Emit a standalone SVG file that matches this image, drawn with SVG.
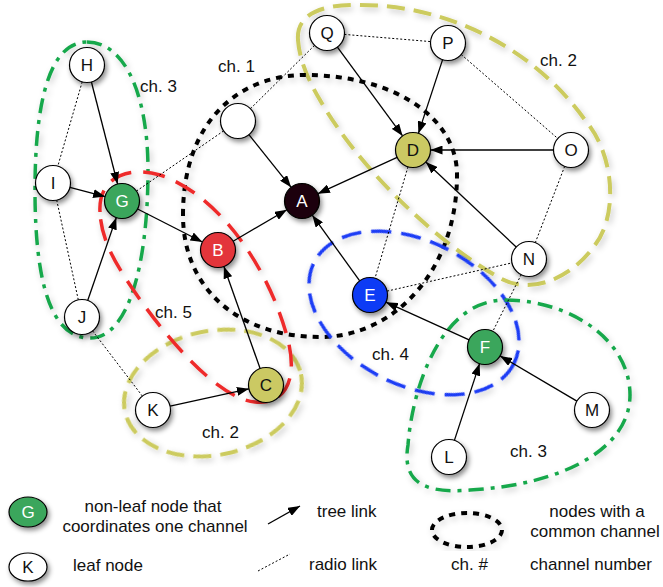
<svg xmlns="http://www.w3.org/2000/svg" width="663" height="587" viewBox="0 0 663 587">
<style>
text{font-family:"Liberation Sans",Arial,sans-serif;font-size:17px;fill:#111}
.nt{text-anchor:middle}
.w{fill:#fff}
.nd{stroke:#000;stroke-width:1.2}
.wh{fill:#fff}
.gr{fill:#3ba65b}
.rd{fill:#e3343a}
.yl{fill:#cbc964}
.ak{fill:#1a0008}
.bl{fill:#0c3af5}
.tree{stroke:#000;stroke-width:1.3;fill:none;marker-end:url(#arr)}
.radio{stroke:#000;stroke-width:1;fill:none;stroke-dasharray:2 2}
.ch{fill:none;filter:url(#sh2)}
.cgreen{stroke:#17a84b;stroke-width:3.5;stroke-dasharray:15 7 4 7}
.cyel{stroke:#cccb5e;stroke-width:4;stroke-dasharray:18 9}
.cred{stroke:#ee2b2b;stroke-width:3.5;stroke-dasharray:22 12}
.cblue{stroke:#1f3cf5;stroke-width:3.5;stroke-dasharray:20 10}
.cblack{stroke:#000;stroke-width:4;stroke-dasharray:6 6}
</style>
<defs>
<marker id="arr" markerUnits="userSpaceOnUse" markerWidth="12" markerHeight="9" refX="12" refY="4.5" orient="auto">
<path d="M0,0 L12,4.5 L0,9 z" fill="#000"/>
</marker>
<filter id="sh" x="-40%" y="-40%" width="180%" height="180%">
<feDropShadow dx="2" dy="3" stdDeviation="2.5" flood-color="#000" flood-opacity="0.45"/>
</filter>
<filter id="sh2" x="-10%" y="-10%" width="120%" height="120%">
<feDropShadow dx="2" dy="3" stdDeviation="3" flood-color="#000" flood-opacity="0.22"/>
</filter>
</defs>

<g id="channels">
<path id="ch3-left" class="ch cgreen" d="M87,42 C125,42 148,95 148,170 C148,260 130,338 90,338 C50,338 35,280 35,190 C35,100 50,42 87,42 Z"/>
<path id="ch2-top" class="ch cyel" d="M298,40 C296,15 320,4 360,5 C450,5 535,50 585,120 C615,155 618,215 595,245 C570,280 530,295 500,278 C440,245 360,170 320,100 C305,75 299,55 298,40 Z"/>
<ellipse id="ch2-bottom" class="ch cyel" cx="213" cy="393" rx="90" ry="62" transform="rotate(-12 213 393)"/>
<path id="ch1" class="ch cblack" d="M183,215 C183,120 240,75 305,75 C390,75 457,115 457,175 C457,270 395,337 320,337 C240,337 183,290 183,215 Z"/>
<ellipse id="ch4" class="ch cblue" cx="414" cy="313" rx="112" ry="72" transform="rotate(27 414 313)"/>
<path id="ch3-right" class="ch cgreen" d="M505,300 C570,300 630,340 630,395 C630,450 560,485 470,490 C415,495 403,475 408,445 C412,390 440,300 505,300 Z"/>
<path id="ch5" class="ch cred" d="M100,212 C98,180 125,165 160,175 C220,195 270,270 288,340 C298,380 285,405 255,402 C215,398 160,330 130,285 C110,255 101,235 100,212 Z"/>
</g>

<g id="connectors">
<line class="radio" x1="82.2" y1="81.8" x2="57.8" y2="166.2"/>
<line class="radio" x1="56.7" y1="200.1" x2="78.3" y2="299.9"/>
<line class="radio" x1="136.4" y1="191.1" x2="223.6" y2="130.9"/>
<line class="radio" x1="250.4" y1="108.7" x2="314.6" y2="45.3"/>
<line class="radio" x1="344.4" y1="34.4" x2="430.6" y2="41.6"/>
<line class="radio" x1="461.2" y1="54.5" x2="557.8" y2="138.5"/>
<line class="radio" x1="564.7" y1="166.3" x2="535.3" y2="242.7"/>
<line class="radio" x1="408" y1="166.8" x2="375" y2="278.2"/>
<line class="radio" x1="387.1" y1="291.1" x2="511.9" y2="262.9"/>
<line class="radio" x1="521.2" y1="274.6" x2="492.8" y2="331.4"/>
<line class="radio" x1="92.6" y1="330.9" x2="142.4" y2="396.1"/>

<line class="tree" x1="91.4" y1="82" x2="117.6" y2="184"/>
<line class="tree" x1="69.9" y1="187.4" x2="105.1" y2="196.6"/>
<line class="tree" x1="87.7" y1="300.5" x2="116.3" y2="217.5"/>
<line class="tree" x1="137.6" y1="209" x2="202.4" y2="242"/>
<line class="tree" x1="233.1" y1="241.2" x2="286.9" y2="209.8"/>
<line class="tree" x1="248.9" y1="134.7" x2="291.1" y2="187.3"/>
<line class="tree" x1="397.1" y1="157.3" x2="317.9" y2="193.7"/>
<line class="tree" x1="337.4" y1="47.1" x2="402.6" y2="135.9"/>
<line class="tree" x1="442.6" y1="59.6" x2="418.4" y2="133.4"/>
<line class="tree" x1="553.5" y1="150" x2="430.5" y2="150"/>
<line class="tree" x1="516.2" y1="247" x2="425.8" y2="162"/>
<line class="tree" x1="359.7" y1="280.8" x2="312.3" y2="215.2"/>
<line class="tree" x1="469.1" y1="339.8" x2="385.9" y2="302.2"/>
<line class="tree" x1="260.1" y1="368.5" x2="223.9" y2="266.5"/>
<line class="tree" x1="170.1" y1="406.2" x2="248.9" y2="388.8"/>
<line class="tree" x1="454.4" y1="440.4" x2="479.6" y2="363.6"/>
<line class="tree" x1="576.9" y1="401.1" x2="500.1" y2="355.9"/>
</g>

<g id="node-H"><circle class="nd wh" cx="87" cy="65" r="17.5" filter="url(#sh)"/><text class="nt" x="87" y="71">H</text></g>
<g id="node-I"><circle class="nd wh" cx="53" cy="183" r="17.5" filter="url(#sh)"/><text class="nt" x="53" y="189">I</text></g>
<g id="node-G"><circle class="nd gr" cx="122" cy="201" r="17.5" filter="url(#sh)"/><text class="nt w" x="122" y="207">G</text></g>
<g id="node-J"><circle class="nd wh" cx="82" cy="317" r="17.5" filter="url(#sh)"/><text class="nt" x="82" y="323">J</text></g>
<g id="node-Q"><circle class="nd wh" cx="327" cy="33" r="17.5" filter="url(#sh)"/><text class="nt" x="327" y="39">Q</text></g>
<g id="node-P"><circle class="nd wh" cx="448" cy="43" r="17.5" filter="url(#sh)"/><text class="nt" x="448" y="49">P</text></g>
<g id="node-blank"><circle class="nd wh" cx="238" cy="121" r="17.5" filter="url(#sh)"/></g>
<g id="node-D"><circle class="nd yl" cx="413" cy="150" r="17.5" filter="url(#sh)"/><text class="nt" x="413" y="156">D</text></g>
<g id="node-O"><circle class="nd wh" cx="571" cy="150" r="17.5" filter="url(#sh)"/><text class="nt" x="571" y="156">O</text></g>
<g id="node-A"><circle class="nd ak" cx="302" cy="201" r="17.5" filter="url(#sh)"/><text class="nt w" x="302" y="207">A</text></g>
<g id="node-B"><circle class="nd rd" cx="218" cy="250" r="17.5" filter="url(#sh)"/><text class="nt w" x="218" y="256">B</text></g>
<g id="node-N"><circle class="nd wh" cx="529" cy="259" r="17.5" filter="url(#sh)"/><text class="nt" x="529" y="265">N</text></g>
<g id="node-E"><circle class="nd bl" cx="370" cy="295" r="17.5" filter="url(#sh)"/><text class="nt w" x="370" y="301">E</text></g>
<g id="node-F"><circle class="nd gr" cx="485" cy="347" r="17.5" filter="url(#sh)"/><text class="nt w" x="485" y="353">F</text></g>
<g id="node-C"><circle class="nd yl" cx="266" cy="385" r="17.5" filter="url(#sh)"/><text class="nt" x="266" y="391">C</text></g>
<g id="node-K"><circle class="nd wh" cx="153" cy="410" r="17.5" filter="url(#sh)"/><text class="nt" x="153" y="416">K</text></g>
<g id="node-M"><circle class="nd wh" cx="592" cy="410" r="17.5" filter="url(#sh)"/><text class="nt" x="592" y="416">M</text></g>
<g id="node-L"><circle class="nd wh" cx="449" cy="457" r="17.5" filter="url(#sh)"/><text class="nt" x="449" y="463">L</text></g>

<g id="channel-labels">
<text x="140" y="92">ch. 3</text>
<text x="218" y="72">ch. 1</text>
<text x="540" y="66">ch. 2</text>
<text x="155" y="318">ch. 5</text>
<text x="372" y="360">ch. 4</text>
<text x="510" y="457">ch. 3</text>
<text x="202" y="438">ch. 2</text>
</g>

<g id="legend">
<ellipse class="nd gr" cx="28" cy="512" rx="19" ry="15" filter="url(#sh)"/>
<text class="nt w" x="28" y="518">G</text>
<ellipse class="nd wh" cx="28" cy="567" rx="19" ry="14" filter="url(#sh)"/>
<text class="nt" x="28" y="573">K</text>
<text class="nt" x="153" y="512">non-leaf node that</text>
<text class="nt" x="155" y="532">coordinates one channel</text>
<text x="73" y="571">leaf node</text>
<line class="tree" x1="268" y1="524" x2="300" y2="506"/>
<text x="317" y="517">tree link</text>
<line class="radio" x1="258" y1="571" x2="290" y2="554"/>
<text x="309" y="570">radio link</text>
<ellipse class="cblack" fill="none" cx="467" cy="530" rx="35" ry="17" filter="url(#sh2)"/>
<text class="nt" x="597" y="517">nodes with a</text>
<text class="nt" x="595" y="537">common channel</text>
<text x="451" y="570">ch. #</text>
<text x="530" y="570">channel number</text>
</g>
</svg>
